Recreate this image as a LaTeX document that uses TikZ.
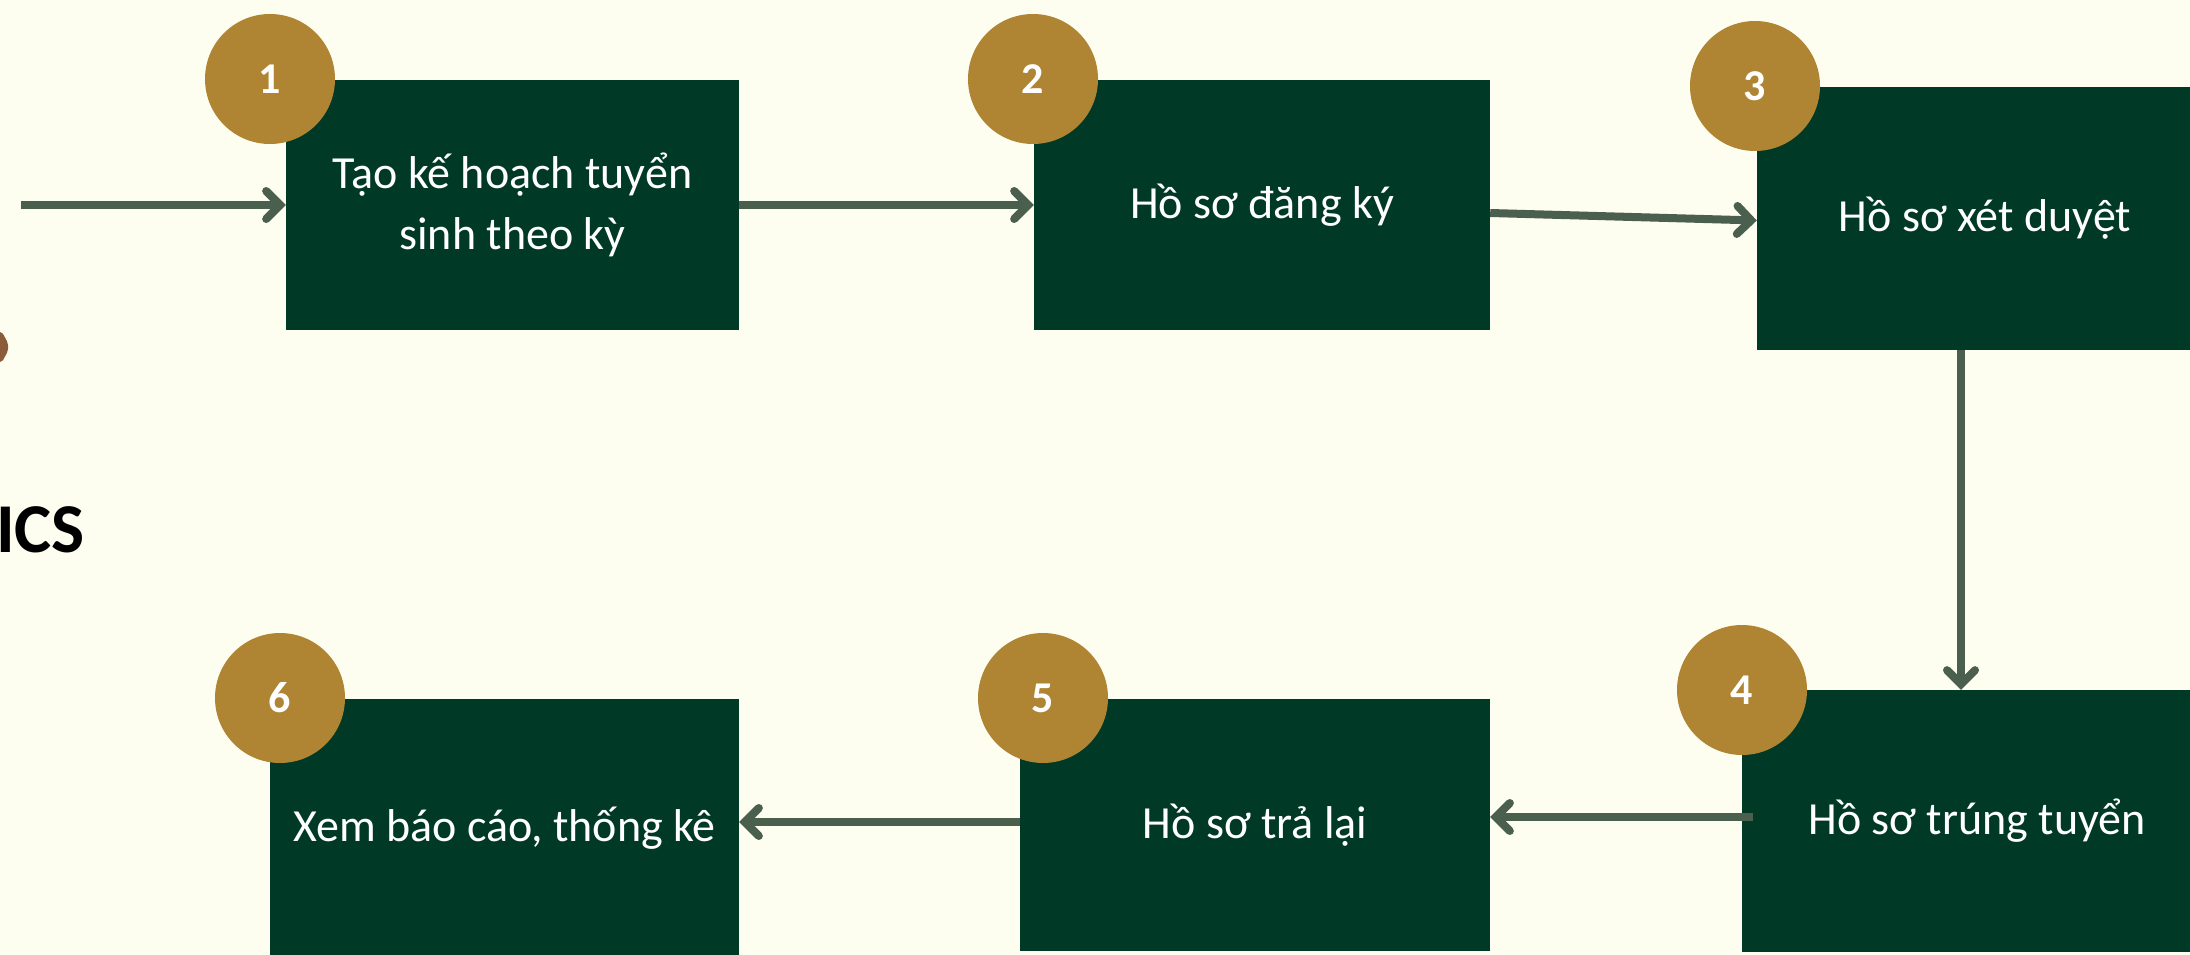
\documentclass[tikz,border=0pt]{standalone}
\usepackage{fontspec}
\setmainfont{Carlito}
\usetikzlibrary{arrows.meta,positioning}
\definecolor{cream}{HTML}{FDFEF0}
\definecolor{pine}{HTML}{003A27}
\definecolor{ochre}{HTML}{AF8432}
\definecolor{moss}{HTML}{4B5F4F}
\definecolor{bark}{HTML}{8C5B3A}
\tikzset{
  stepbox/.style={rectangle,fill=pine,text=white,inner sep=0pt,align=center,
    font=\fontsize{46}{61}\selectfont},
  badge/.style={circle,fill=ochre,text=white,minimum size=130pt,inner sep=0pt,
    font=\bfseries\fontsize{44}{44}\selectfont},
  flow/.style={draw=moss,line width=8pt,
    -{Straight Barb[length=14pt,width=28pt,line cap=round]}}
}
\begin{document}
\begin{tikzpicture}[x=1pt,y=-1pt]
 %background
  \fill[cream] (0,0) rectangle (2190,955);
  \useasboundingbox (0,0) rectangle (2190,955);
  \clip (0,0) rectangle (2190,955);
 %cut-off pieces on the left
  \fill[bark,rounded corners=2pt] (-30,332) -- (2,332) -- (8,343) -- (8,351) -- (2,362) -- (-30,362) -- cycle;
  \node[anchor=base west,inner sep=0pt,font=\bfseries\fontsize{70}{70}\selectfont] (title) at (-4,552) {ICS};
 %draw boxes
  \node[stepbox,minimum width=453pt,minimum height=250pt] (plan) at (512.5,205) {Tạo kế hoạch tuyển\\sinh theo kỳ};
  \node[stepbox,minimum width=456pt,minimum height=250pt] (reg) at (1262,205) {Hồ sơ đăng ký};
  \node[stepbox,minimum width=456pt,minimum height=263pt] (rev) at (1985,218.5) {Hồ sơ xét duyệt};
  \node[stepbox,minimum width=470pt,minimum height=262pt] (adm) at (1977,821) {Hồ sơ trúng tuyển};
  \node[stepbox,minimum width=470pt,minimum height=252pt] (ret) at (1255,825) {Hồ sơ trả lại};
  \node[stepbox,minimum width=469pt,minimum height=258pt] (rep) at (504.5,828) {Xem báo cáo, thống kê};
 %number badges
  \node[badge] (n1) at (270,79) {1};
  \node[badge] (n2) at (1033,79) {2};
  \node[badge] (n3) at (1755,86) {3};
  \node[badge] (n4) at (1742,690) {4};
  \node[badge] (n5) at (1043,698) {5};
  \node[badge] (n6) at (280,698) {6};
 %draw arrows
  \coordinate (start) at (21,205);
  \draw[flow] (start) -- (plan.west);
  \draw[flow] (plan.east) -- (reg.west);
  \draw[flow] ([yshift=-8pt]reg.east) -- ([yshift=-2pt]rev.west);
  \draw[flow] ([xshift=-24pt]rev.south) -- ([xshift=-16pt]adm.north);
  \draw[flow] ([xshift=11pt,yshift=4pt]adm.west) -- ([yshift=8pt]ret.east);
  \draw[flow] ([yshift=3pt]ret.west) -- ([yshift=6pt]rep.east);
\end{tikzpicture}
\end{document}
